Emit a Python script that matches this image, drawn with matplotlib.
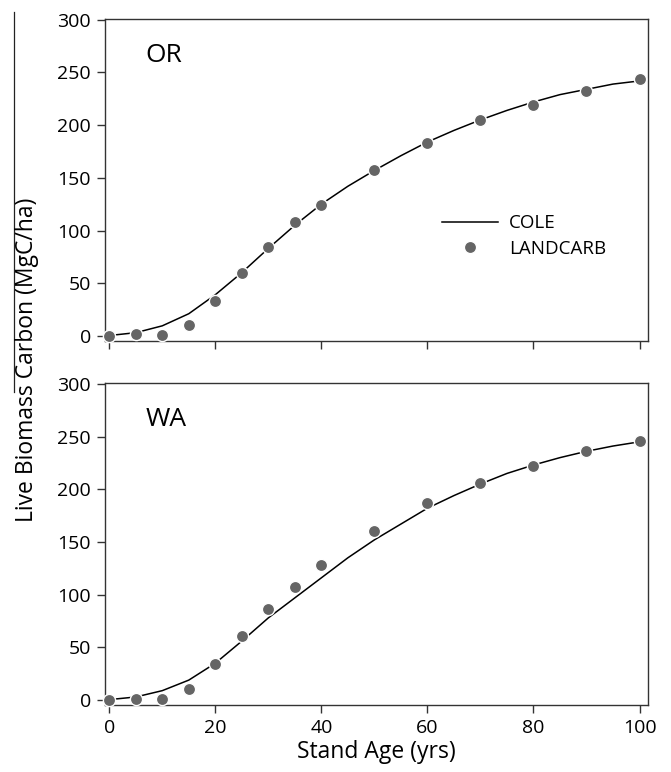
import matplotlib
matplotlib.use("Agg")
import matplotlib.pyplot as plt
from matplotlib.lines import Line2D

plt.rcParams['font.family'] = ['Open Sans', 'DejaVu Sans']

# LANDCARB points (every stand age sampled)
ages = [0, 5, 10, 15, 20, 25, 30, 35, 40, 50, 60, 70, 80, 90, 100]
or_landcarb = [0, 1.5, 1, 10.4, 33, 59.5, 84, 108, 124, 157, 183.5, 205, 219, 232.5, 243.5]
wa_landcarb = [0, 1.2, 1.2, 10.4, 34.6, 61, 86, 107, 128, 160, 187, 206, 222, 236, 246]

# COLE curves read every 5 years
cole_ages = [0, 5, 10, 15, 20, 25, 30, 35, 40, 45, 50, 55, 60, 65, 70, 75, 80, 85, 90, 95, 100]
or_cole = [0.3, 3, 9.5, 21, 39, 60, 83, 105, 125, 142, 157, 171, 184, 195, 205, 214, 222, 229, 234, 239, 242]
wa_cole = [0.5, 3, 9, 19, 35, 56, 78, 97, 116, 135, 152, 167, 182, 194, 205, 215, 223, 230, 236, 241, 245]

panels = ["OR", "WA"]

fig = plt.figure(figsize=(6.71, 7.72), dpi=100)
ax1 = fig.add_axes([0.1565, 0.5587, 0.8092, 0.4163])
ax2 = fig.add_axes([0.1565, 0.0868, 0.8092, 0.4167])

data = [(ax1, or_cole, or_landcarb), (ax2, wa_cole, wa_landcarb)]
for (ax, cole, lc), name in zip(data, panels):
    ax.plot(cole_ages, cole, color='black', lw=1.1, label='COLE', zorder=2)
    ax.plot(ages, lc, linestyle='none', marker='o', markersize=8.8,
            markerfacecolor='#656565', markeredgecolor='white', markeredgewidth=1.0,
            label='LANDCARB', zorder=3, clip_on=False)
    ax.set_xlim(-0.8, 101.6)
    ax.set_ylim(-4.6, 300.5)
    ax.set_xticks([0, 20, 40, 60, 80, 100])
    ax.set_yticks([0, 50, 100, 150, 200, 250, 300])
    ax.tick_params(direction='out', length=5.8, width=1.0, color='#333333',
                   labelsize=14, pad=4.3)
    for s in ax.spines.values():
        s.set_color('#333333')
        s.set_linewidth(1.0)
    ax.text(0.075, 0.868, name, transform=ax.transAxes, fontsize=19,
            ha='left', va='baseline')

ax1.tick_params(axis='x', labelbottom=False)
ax2.set_xlabel("Stand Age (yrs)", fontsize=16.5, labelpad=2)

ax1.legend(loc='upper left', bbox_to_anchor=(0.62, 0.393), frameon=False,
           fontsize=13.5, handlelength=3.0, handletextpad=0.6, labelspacing=0.4,
           borderpad=0, borderaxespad=0)

fig.text(27 / 671, 1 - 360 / 772, "Live Biomass Carbon (MgC/ha)", rotation=90,
         ha='center', va='center', fontsize=16.5)

# thin vertical rule at the left edge of the original figure
fig.add_artist(Line2D([14 / 671, 14 / 671], [1 - 12 / 772, 1 - 392 / 772],
                      color='#222222', lw=0.9))

fig.savefig("out.png", dpi=100)
